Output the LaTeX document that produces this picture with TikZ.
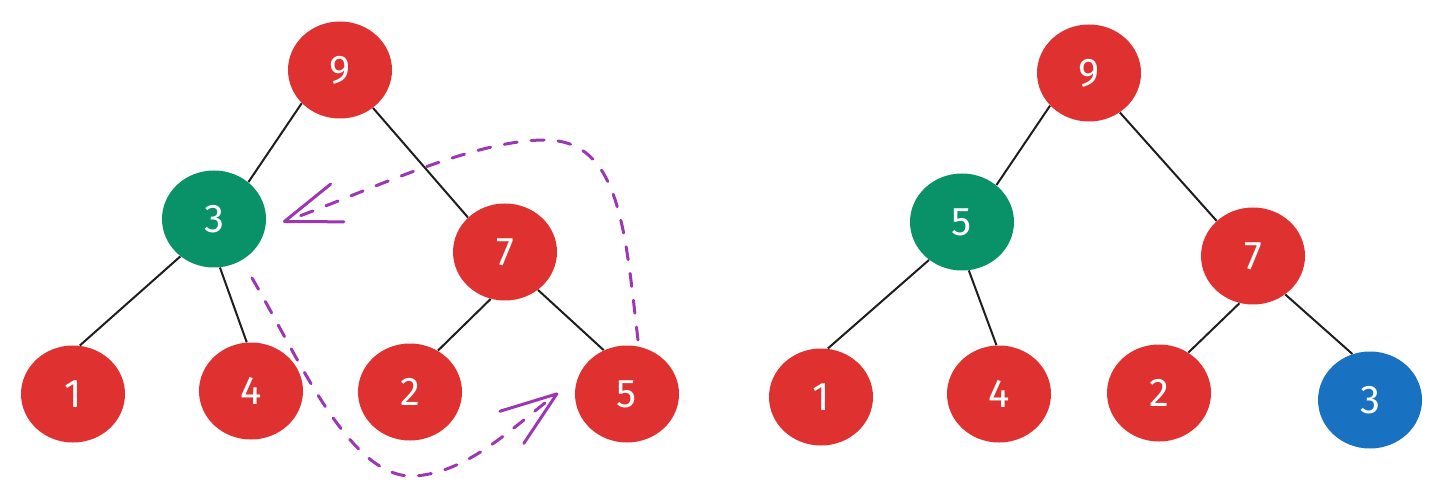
\documentclass[tikz,border=0pt]{standalone}
\usepackage{fontspec}
\setmainfont{Fira Sans}
\usetikzlibrary{shapes.geometric,arrows.meta}
\definecolor{nred}{HTML}{E03131}
\definecolor{ngreen}{HTML}{099268}
\definecolor{nblue}{HTML}{1971C2}
\definecolor{npurple}{HTML}{9C36B5}
\definecolor{nedge}{HTML}{1E1E1E}
\tikzset{
  hnode/.style={ellipse, fill=#1, draw=none, minimum width=52pt, minimum height=48.5pt, inner sep=0pt,
    text=white, font=\fontsize{20}{22}\selectfont},
  hnode/.default=nred,
  tedge/.style={draw=nedge, line width=1pt},
  swap/.style={draw=npurple, line width=1.5pt, line cap=round, dash pattern=on 6.5pt off 7pt,
    -{Straight Barb[length=28pt,width=20pt,line cap=round,line join=round]}},
}
\begin{document}
\begin{tikzpicture}[x=0.5pt,y=-0.5pt]
\useasboundingbox (0,0) rectangle (1443,496);
% left tree
\node[hnode] (L9) at (340,70) {9};
\node[hnode=ngreen] (L3) at (214,219) {3};
\node[hnode] (L7) at (505,252) {7};
\node[hnode] (L1) at (73,394) {1};
\node[hnode] (L4) at (251,391) {4};
\node[hnode] (L2) at (410,392) {2};
\node[hnode] (L5) at (627,394) {5};
\draw[tedge] (L9.221) -- (L3.47);
\draw[tedge] (L9.311) -- (L7.137);
\draw[tedge] (L3.228) -- (L1.82);
\draw[tedge] (L3.277) -- (L4.95);
\draw[tedge] (L7.253) -- (L2.56);
\draw[tedge] (L7.311) -- (L5.118);
% right tree
\node[hnode] (R9) at (1089,73) {9};
\node[hnode=ngreen] (R5) at (962,222) {5};
\node[hnode] (R7) at (1253,256) {7};
\node[hnode] (R1) at (821,397) {1};
\node[hnode] (R4) at (999,394) {4};
\node[hnode] (R2) at (1159,393) {2};
\node[hnode=nblue] (R3) at (1370,400) {3};
\draw[tedge] (R9.220) -- (R5.47);
\draw[tedge] (R9.308) -- (R7.136);
\draw[tedge] (R5.229) -- (R1.82);
\draw[tedge] (R5.278) -- (R4.93);
\draw[tedge] (R7.254) -- (R2.54);
\draw[tedge] (R7.310) -- (R3.111);
% swap arrows
\coordinate (s1a) at (638,340);
\coordinate (s1b) at (283,222);
\coordinate (s2a) at (252,278);
\coordinate (s2b) at (558,393);
\draw[swap] (s1a) .. controls (625,230) and (620,140) .. (545,140)
  .. controls (470,140) and (360,195) .. (s1b);
\draw[swap] (s2a) .. controls (300,360) and (350,480) .. (415,476)
  .. controls (470,472) and (515,425) .. (s2b);
\end{tikzpicture}
\end{document}
